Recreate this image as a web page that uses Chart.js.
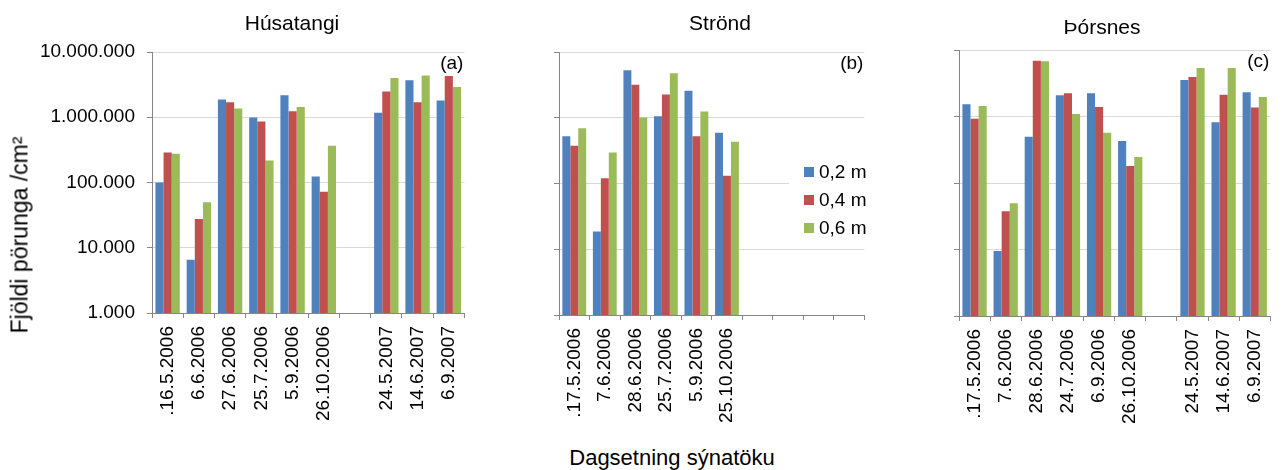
<!DOCTYPE html>
<html>
<head>
<meta charset="utf-8">
<title>Fjöldi pörunga</title>
<script src="https://cdn.jsdelivr.net/npm/chart.js@4.4.0/dist/chart.umd.min.js"></script>
<style>
  body { margin: 0; background: #fff; font-family: "Liberation Sans", Arial, sans-serif; color: #000; }
  #wrap { position: relative; width: 1286px; height: 470px; overflow: hidden; }
  .panel { position: absolute; top: 0; height: 430px; }
  .txt { position: absolute; font-size: 21px; white-space: nowrap; transform: translate(-50%, -50%); }
  .axis { font-size: 22px; }
  #ytitle { transform: translate(-50%, -50%) rotate(-90deg); font-size: 23px; }
</style>
</head>
<body>
<div id="wrap">
  <div class="panel" style="left:0;width:480px"><canvas id="chartA" width="480" height="430"></canvas></div>
  <div class="panel" style="left:480px;width:400px"><canvas id="chartB" width="400" height="430"></canvas></div>
  <div class="panel" style="left:880px;width:406px"><canvas id="chartC" width="406" height="430"></canvas></div>

  <div class="txt" style="left:292px;top:23px">Húsatangi</div>
  <div class="txt" style="left:720px;top:23px">Strönd</div>
  <div class="txt" style="left:1102px;top:27px">Þórsnes</div>
  <div class="txt" id="ytitle" style="left:20px;top:235px">Fjöldi pörunga /cm²</div>
  <div class="txt axis" style="left:672px;top:458px">Dagsetning sýnatöku</div>
</div>

<script>
'use strict';

// series names and colours
let seriesNames = ['0,2 m', '0,4 m', '0,6 m'];
let seriesColors = ['#4F81BD', '#C0504D', '#9BBB59'];

// log axis decades
let yTicks = [1000, 10000, 100000, 1000000, 10000000];

// Húsatangi
let husLabels = ['.16.5.2006', '6.6.2006', '27.6.2006', '25.7.2006', '5.9.2006', '26.10.2006', '', '24.5.2007', '14.6.2007', '6.9.2007'];
let hus02 = [100000, 6550, 1875000, 993000, 2180000, 124000, null, 1167000, 3700000, 1810000];
let hus04 = [289000, 27500, 1700000, 862000, 1240000, 72000, null, 2480000, 1700000, 4300000];
let hus06 = [275000, 50000, 1365000, 218000, 1430000, 365000, null, 4010000, 4370000, 2920000];

// Strönd
let strLabels = ['.17.5.2006', '7.6.2006', '28.6.2006', '25.7.2006', '5.9.2006', '25.10.2006', '', '', '', ''];
let str02 = [525000, 18700, 5280000, 1057000, 2570000, 592000, null, null, null, null];
let str04 = [375000, 120000, 3170000, 2260000, 525000, 131000, null, null, null, null];
let str06 = [695000, 297000, 1010000, 4760000, 1250000, 432000, null, null, null, null];

// Þórsnes
let thoLabels = ['.17.5.2006', '7.6.2006', '28.6.2006', '24.7.2006', '6.9.2006', '26.10.2006', '', '24.5.2007', '14.6.2007', '6.9.2007'];
let tho02 = [1527000, 9530, 497000, 2085000, 2235000, 427000, null, 3550000, 817000, 2310000];
let tho04 = [927000, 37700, 6920000, 2235000, 1390000, 180000, null, 3940000, 2130000, 1360000];
let tho06 = [1440000, 49800, 6770000, 1091000, 570000, 245000, null, 5370000, 5370000, 1970000];

Chart.defaults.font.family = '"Liberation Sans", Arial, sans-serif';
Chart.defaults.font.size = 19;
Chart.defaults.color = '#000';

function withDots(v) {
  return String(v).replace(/\B(?=(\d{3})+(?!\d))/g, '.');
}

// small letter in the top right corner of the plot
let cornerTag = {
  id: 'cornerTag',
  afterDraw(chart, args, opts) {
    let ctx = chart.ctx;
    let area = chart.chartArea;
    ctx.save();
    ctx.font = '19px "Liberation Sans", Arial, sans-serif';
    ctx.fillStyle = '#000';
    ctx.textAlign = 'right';
    ctx.textBaseline = 'middle';
    ctx.fillText(opts.text, area.right - 1, area.top + 12);
    ctx.restore();
  }
};

// legend box drawn inside the plot area (only on the middle panel)
let innerLegend = {
  id: 'innerLegend',
  afterDatasetsDraw(chart, args, opts) {
    if (!opts.show) return;
    let ctx = chart.ctx;
    let area = chart.chartArea;
    ctx.save();
    ctx.fillStyle = '#fff';
    ctx.fillRect(area.left + 230, area.top + 103, area.right - area.left - 230, 87);
    ctx.font = '19px "Liberation Sans", Arial, sans-serif';
    ctx.textAlign = 'left';
    ctx.textBaseline = 'middle';
    chart.data.datasets.forEach(function (ds, i) {
      let y = area.top + 120 + i * 28;
      ctx.fillStyle = ds.backgroundColor;
      ctx.fillRect(area.left + 245, y - 5, 10, 10);
      ctx.fillStyle = '#000';
      ctx.fillText(ds.label, area.left + 260, y + 1);
    });
    ctx.restore();
  }
};

function makePanel(id, labels, s02, s04, s06, opt) {
  let values = [s02, s04, s06];
  let datasets = [];
  for (let i = 0; i < 3; i++) {
    datasets.push({
      label: seriesNames[i],
      data: values[i],
      backgroundColor: seriesColors[i],
      borderWidth: 0,
      categoryPercentage: 0.78,
      barPercentage: 1.0
    });
  }

  let config = {
    type: 'bar',
    data: { labels: labels, datasets: datasets },
    plugins: [cornerTag, innerLegend],
    options: {
      responsive: false,
      animation: false,
      layout: { padding: { left: 0, right: opt.padRight, top: opt.top, bottom: 0 } },
      plugins: {
        legend: { display: false },
        tooltip: { enabled: false },
        cornerTag: { text: opt.tag },
        innerLegend: { show: opt.legend }
      },
      scales: {
        x: {
          type: 'category',
          offset: true,
          grid: { offset: true, drawOnChartArea: false, drawTicks: true, tickLength: 5, tickColor: '#868686' },
          border: { color: '#868686' },
          ticks: { minRotation: 90, maxRotation: 90, autoSkip: false, padding: 8, color: '#000' },
          afterFit: function (scale) { scale.height = opt.xHeight; }
        },
        y: {
          type: 'logarithmic',
          min: 1000,
          max: 10000000,
          grid: { color: '#d9d9d9', drawTicks: true, tickLength: 5, tickColor: '#868686' },
          border: { color: '#868686' },
          ticks: {
            padding: 12,
            color: '#000',
            callback: function (v) { return opt.yLabels ? withDots(v) : ''; }
          },
          afterBuildTicks: function (scale) {
            scale.ticks = yTicks.map(function (v) { return { value: v }; });
          },
          afterFit: function (scale) { scale.width = opt.yWidth; }
        }
      }
    }
  };

  const ctx = document.getElementById(id).getContext('2d');
  return new Chart(ctx, config);
}

makePanel('chartA', husLabels, hus02, hus04, hus06,
  { tag: '(a)', legend: false, yLabels: true, yWidth: 152, padRight: 8, top: 52, xHeight: 117 });
makePanel('chartB', strLabels, str02, str04, str06,
  { tag: '(b)', legend: true, yLabels: false, yWidth: 79, padRight: 2, top: 52, xHeight: 115 });
makePanel('chartC', thoLabels, tho02, tho04, tho06,
  { tag: '(c)', legend: false, yLabels: false, yWidth: 79, padRight: 9, top: 50, xHeight: 114 });
</script>
</body>
</html>
